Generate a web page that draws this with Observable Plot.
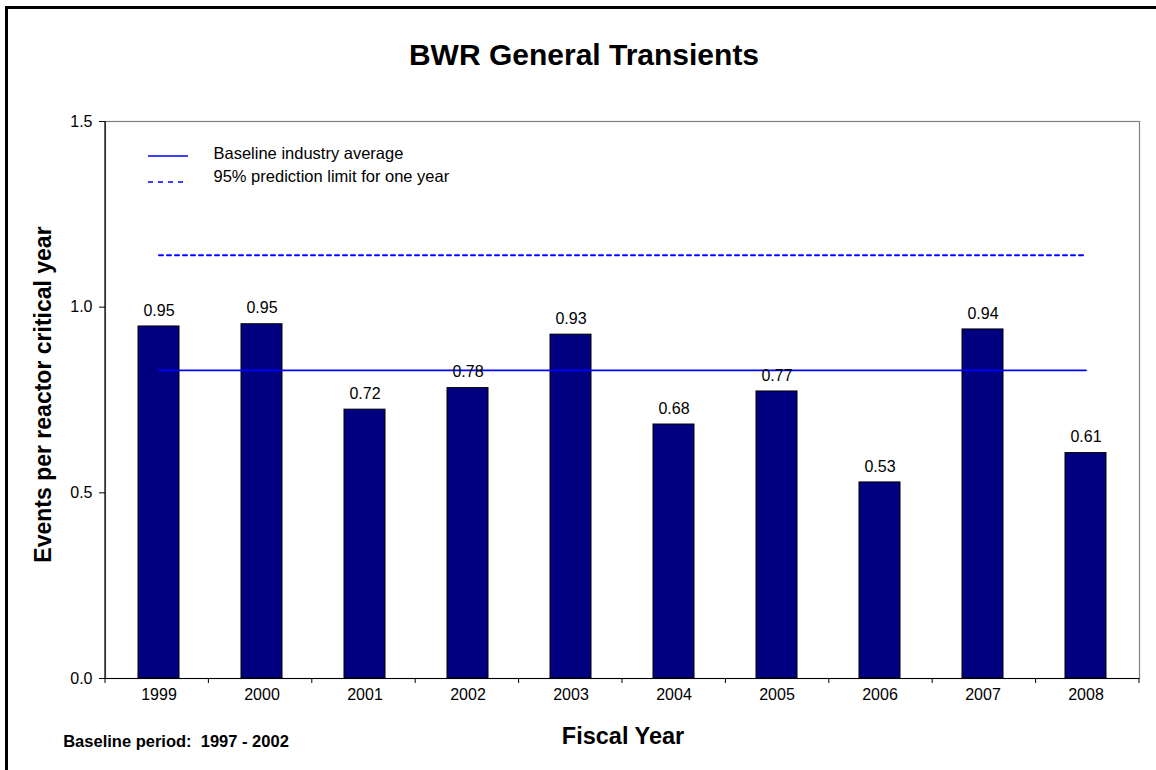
<!DOCTYPE html>
<html><head><meta charset="utf-8">
<script src="https://cdn.jsdelivr.net/npm/d3@7"></script>
<script src="https://cdn.jsdelivr.net/npm/@observablehq/plot@0.6"></script>
<style>
body{margin:0;background:#fff;overflow:hidden;}
#chart{position:absolute;left:0;top:0;}
#frame{position:absolute;left:5px;top:6px;width:1300px;height:900px;border-left:3px solid #000;border-top:3px solid #000;pointer-events:none;}
</style></head><body>
<div id="chart"></div><div id="frame"></div>
<script>
const years = ["1999","2000","2001","2002","2003","2004","2005","2006","2007","2008"];
const rates = [0.948, 0.954, 0.724, 0.782, 0.926, 0.684, 0.773, 0.528, 0.940, 0.607];
const rateLabels = ["0.95","0.95","0.72","0.78","0.93","0.68","0.77","0.53","0.94","0.61"];
const baselineAverage = 0.83;
const predictionLimit = 1.14;
const yTicks = [0, 0.5, 1.0, 1.5];
const legendLabels = ["Baseline industry average", "95% prediction limit for one year"];
const titleText = "BWR General Transients";
const xLabel = "Fiscal Year";
const yLabel = "Events per reactor critical year";
const captionText = "Baseline period:  1997 - 2002";

const FONT = "'Liberation Sans', Arial, Helvetica, sans-serif";
const W = 1156, H = 770, ML = 105, MR = 17, MT = 121, MB = 92;

const data = years.map((year, i) => ({year, rate: rates[i], label: rateLabels[i]}));
const refLine = v => [{year: years[0], v}, {year: years[years.length - 1], v}];

function decorations(index, scales, values, dims) {
  const {width, height, marginLeft, marginRight, marginTop, marginBottom} = dims;
  const x0 = marginLeft, x1 = width - marginRight, yb = height - marginBottom;
  const step = (x1 - x0) / years.length;
  const g = d3.create("svg:g");
  g.append("line").attr("x1", x0).attr("x2", x0).attr("y1", marginTop).attr("y2", yb)
    .attr("stroke", "black").attr("stroke-width", 1.2);
  for (let k = 0; k <= years.length; k++) {
    const xx = x0 + k * step;
    g.append("line").attr("x1", xx).attr("x2", xx).attr("y1", yb).attr("y2", yb + 5)
      .attr("stroke", "black").attr("stroke-width", 1);
  }
  g.append("line").attr("x1", x0 + 43).attr("x2", x0 + 83).attr("y1", marginTop + 35).attr("y2", marginTop + 35)
    .attr("stroke", "blue").attr("stroke-width", 1.6);
  g.append("line").attr("x1", x0 + 43).attr("x2", x0 + 83).attr("y1", marginTop + 61).attr("y2", marginTop + 61)
    .attr("stroke", "blue").attr("stroke-width", 1.6).attr("stroke-dasharray", "5,5");
  return g.node();
}

const chart = Plot.plot({
  width: W, height: H,
  marginLeft: ML, marginRight: MR, marginTop: MT, marginBottom: MB,
  style: {fontFamily: FONT, fontSize: "16px", color: "black", background: "white"},
  x: {type: "band", domain: years, paddingInner: 0.6, paddingOuter: 0.3},
  y: {domain: [0, 1.5]},
  marks: [
    Plot.frame({stroke: "#808080", strokeWidth: 1.2}),
    Plot.barY(data, {x: "year", y: "rate", fill: "#000080", stroke: "black", strokeWidth: 1}),
    Plot.line(refLine(baselineAverage), {x: "year", y: "v", stroke: "blue", strokeWidth: 1.8}),
    Plot.line(refLine(predictionLimit), {x: "year", y: "v", stroke: "blue", strokeWidth: 2, strokeDasharray: "4,4"}),
    Plot.ruleY([0], {stroke: "black", strokeWidth: 1.2}),
    Plot.text(data, {x: "year", y: "rate", text: "label", dy: -16, lineAnchor: "middle", fontSize: 16, fill: "black"}),
    Plot.axisY({ticks: yTicks, tickFormat: d3.format(".1f"), tickSize: 6, tickPadding: 7, label: null, fontSize: 16}),
    Plot.axisX({tickSize: 0, tickPadding: 10, label: null, fontSize: 16}),
    decorations,
    Plot.text([legendLabels[0]], {text: d => d, frameAnchor: "top-left", dx: 108, dy: 32, fontSize: 16.5, textAnchor: "start", lineAnchor: "middle", fill: "black"}),
    Plot.text([legendLabels[1]], {text: d => d, frameAnchor: "top-left", dx: 108, dy: 55, fontSize: 16.5, textAnchor: "start", lineAnchor: "middle", fill: "black"}),
    Plot.text([titleText], {text: d => d, frameAnchor: "top-left", dx: 478.5, dy: -57, fontSize: 30, fontWeight: "bold", textAnchor: "middle", lineAnchor: "bottom", fill: "black"}),
    Plot.text([xLabel], {text: d => d, frameAnchor: "top-left", dx: 517.5, dy: 622, fontSize: 23.5, fontWeight: "bold", textAnchor: "middle", lineAnchor: "bottom", fill: "black"}),
    Plot.text([yLabel], {text: d => d, frameAnchor: "top-left", dx: -55, dy: 273, rotate: -90, fontSize: 23, fontWeight: "bold", textAnchor: "middle", lineAnchor: "bottom", fill: "black"}),
    Plot.text([captionText], {text: d => d, frameAnchor: "top-left", dx: -42.3, dy: 625.5, fontSize: 16.5, fontWeight: "bold", textAnchor: "start", lineAnchor: "bottom", fill: "black"})
  ]
});
document.getElementById("chart").appendChild(chart);
</script>
</body></html>
